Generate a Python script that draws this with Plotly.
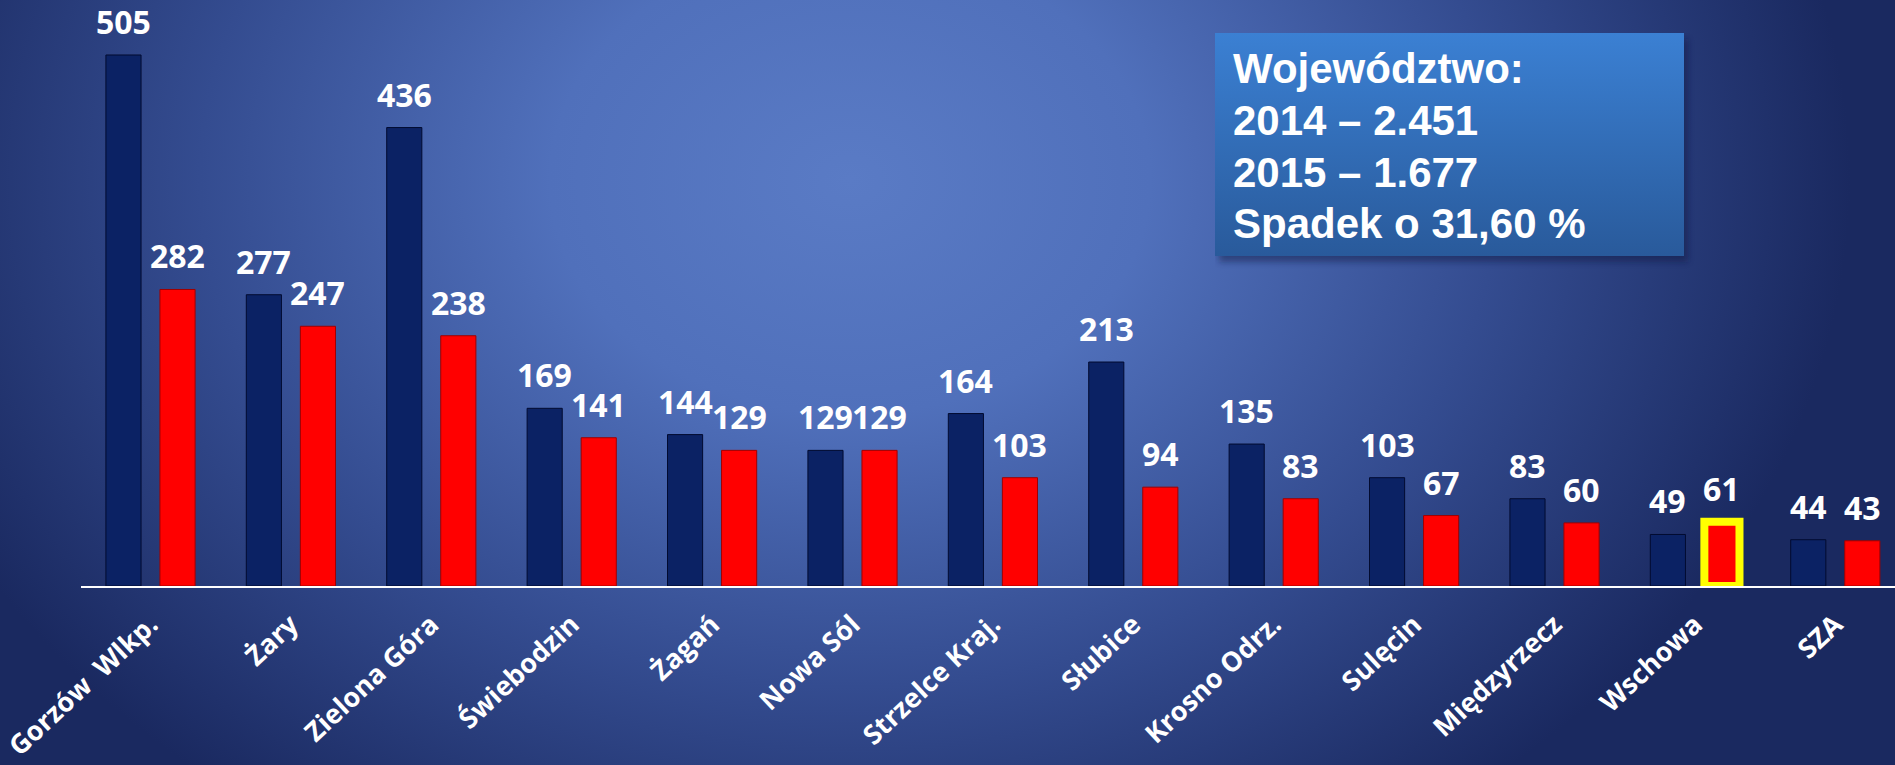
import base64
import plotly.graph_objects as go

categories = ["Gorzów  Wlkp.", "Żary", "Zielona Góra", "Świebodzin", "Żagań", "Nowa Sól",
              "Strzelce Kraj.", "Słubice", "Krosno Odrz.", "Sulęcin", "Międzyrzecz", "Wschowa", "SZA"]
values_2014 = [505, 277, 436, 169, 144, 129, 164, 213, 135, 103, 83, 49, 44]
values_2015 = [282, 247, 238, 141, 129, 129, 103, 94, 83, 67, 60, 61, 43]
highlight = "Wschowa"
summary_lines = ["Województwo:", "2014 – 2.451", "2015 – 1.677", "Spadek o 31,60 %"]

W, H = 1895, 765
ML, MB = 81, 179
PW, PH = W - ML, H - MB
CAT_W = 140.4          # pixel width of one category
FIRST_X = 150.5 - ML   # centre of the first category inside the plot area


def svg_uri(svg):
    return "data:image/svg+xml;base64," + base64.b64encode(svg.encode("utf-8")).decode("ascii")


background_svg = """<svg xmlns="http://www.w3.org/2000/svg" width="1895" height="765" viewBox="0 0 1895 765" preserveAspectRatio="none">
<defs><radialGradient id="g" gradientUnits="userSpaceOnUse" cx="850" cy="180" r="1000"
 gradientTransform="translate(850 180) scale(1 0.78) translate(-850 -180)">
<stop offset="0" stop-color="#5a7bc5"/><stop offset="0.3" stop-color="#5070bb"/>
<stop offset="0.65" stop-color="#344c90"/><stop offset="1" stop-color="#1a2960"/>
</radialGradient></defs>
<rect width="1895" height="765" fill="url(#g)"/></svg>"""

box_svg = """<svg xmlns="http://www.w3.org/2000/svg" width="480" height="236" viewBox="0 0 480 236" preserveAspectRatio="none">
<defs><linearGradient id="b" x1="0" y1="0" x2="0" y2="1">
<stop offset="0" stop-color="#3b80d3"/><stop offset="1" stop-color="#295a9b"/></linearGradient>
<filter id="s"><feGaussianBlur stdDeviation="3"/></filter></defs>
<rect x="4" y="6" width="469" height="223" fill="#0a1440" opacity="0.45" filter="url(#s)"/>
<rect x="0" y="0" width="469" height="223" fill="url(#b)"/></svg>"""

fig = go.Figure()
fig.add_trace(go.Bar(x=categories, y=values_2014, name="2014",
                     marker=dict(color="#0b2264", line=dict(color="#020b30", width=1))))
fig.add_trace(go.Bar(x=categories, y=values_2015, name="2015",
                     marker=dict(color="#ff0000",
                                 line=dict(color=["#ffff00" if c == highlight else "#a00000" for c in categories],
                                           width=[8 if c == highlight else 1 for c in categories]))))

label_font = dict(family="Open Sans", size=32, color="white", weight="bold")
for cat, v14, v15 in zip(categories, values_2014, values_2015):
    for v, shift in ((v14, -27), (v15, 27)):
        fig.add_annotation(x=cat, y=v, xshift=shift, yshift=10, yanchor="bottom", showarrow=False,
                           text=str(v), font=label_font)

# summary box text, one line per annotation to get the tighter line spacing
box_font = dict(family="Liberation Sans", size=42, color="white", weight="bold")
for i, line in enumerate(summary_lines):
    fig.add_annotation(xref="paper", yref="paper", x=(1231 - ML) / PW, y=1 - (69 + 51.6 * i) / PH,
                       xanchor="left", yanchor="middle", align="left", showarrow=False,
                       text=line, font=box_font)

fig.add_layout_image(source=svg_uri(background_svg), xref="paper", yref="paper",
                     x=-ML / PW, y=1, sizex=W / PW, sizey=H / PH,
                     xanchor="left", yanchor="top", sizing="stretch", layer="below")
fig.add_layout_image(source=svg_uri(box_svg), xref="paper", yref="paper",
                     x=(1215 - ML) / PW, y=1 - 33 / PH, sizex=480 / PW, sizey=236 / PH,
                     xanchor="left", yanchor="top", sizing="stretch", layer="below")

fig.update_layout(
    width=W, height=H,
    margin=dict(l=ML, r=0, t=0, b=MB, pad=0),
    barmode="group", bargap=0.23, bargroupgap=0.35,
    showlegend=False,
    paper_bgcolor="#34488c", plot_bgcolor="rgba(0,0,0,0)",
    xaxis=dict(range=[-FIRST_X / CAT_W, (PW - FIRST_X) / CAT_W],
               showline=True, linecolor="white", linewidth=2,
               showgrid=False, zeroline=False, ticks="", tickangle=-43, automargin=False,
               ticklabelstandoff=10,
               tickfont=dict(family="Open Sans", size=27, color="white", weight="bold")),
    yaxis=dict(range=[0, PH / 1.0515], visible=False, showgrid=False, zeroline=False),
)

fig.write_html("out.html", config={"displayModeBar": False},
               post_script="document.body.style.margin='0';document.body.style.overflow='hidden';")
